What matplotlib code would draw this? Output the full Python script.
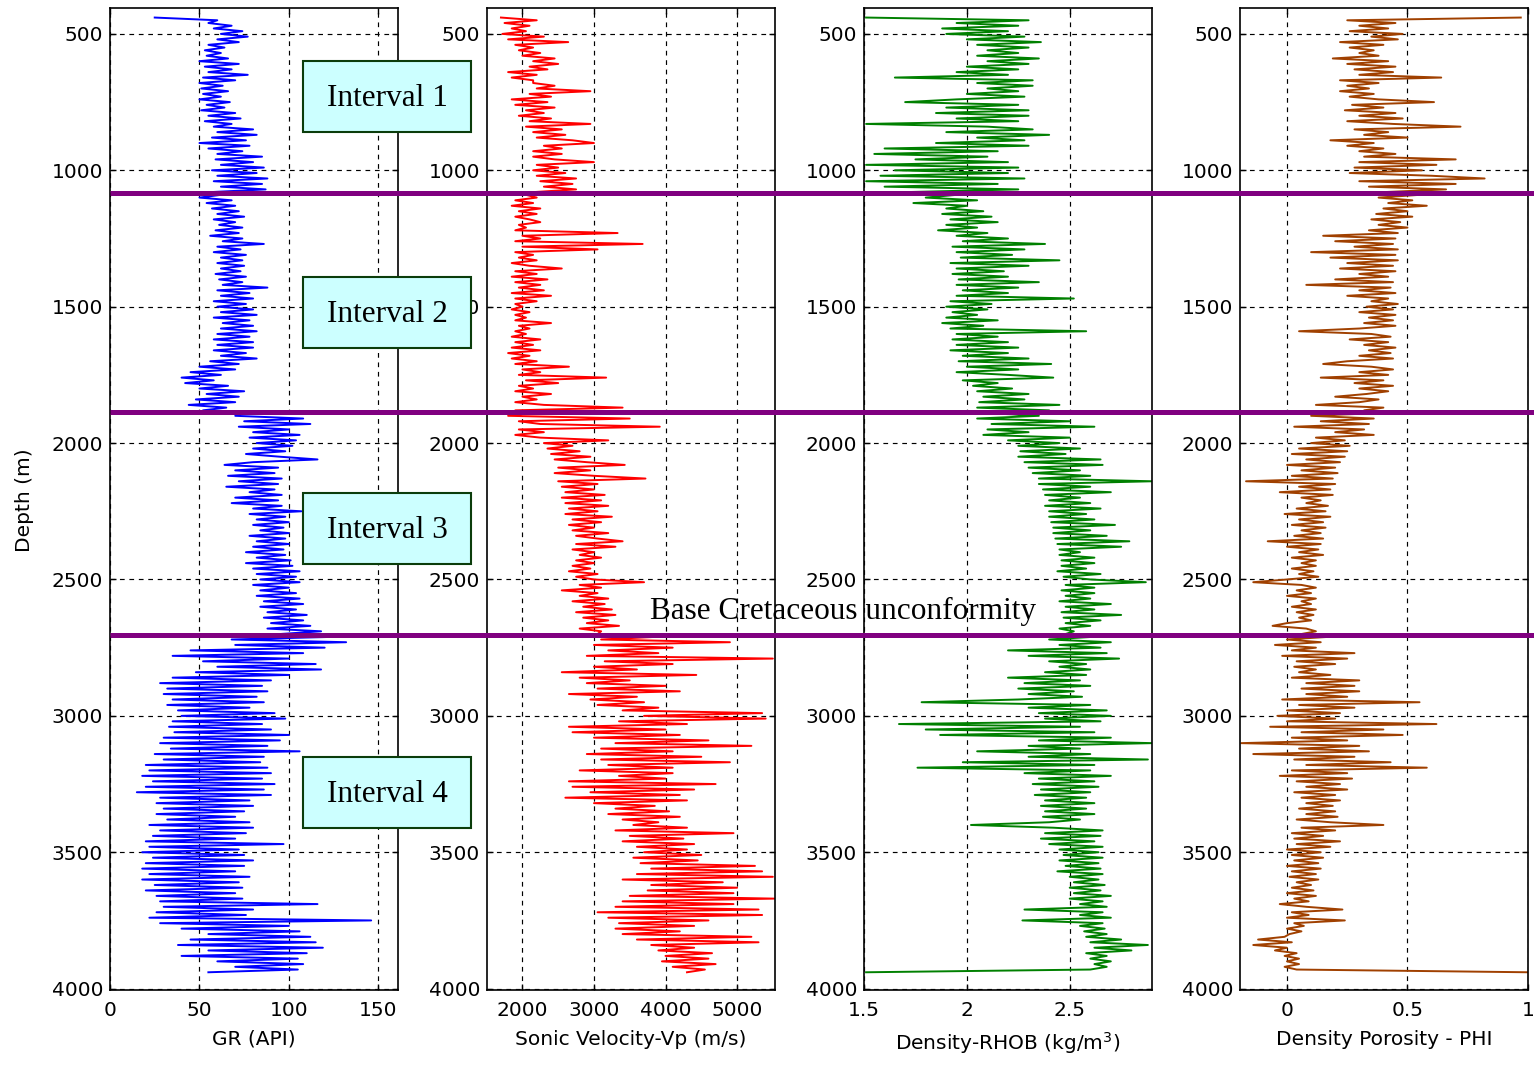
import numpy as np
import matplotlib
matplotlib.use("Agg")
import matplotlib.pyplot as plt
from matplotlib.patches import Rectangle
from matplotlib.lines import Line2D
import matplotlib.transforms as mtransforms

# depth samples (m), one reading every 10 m
depth = np.arange(440, 3941, 10)

# Gamma ray (API), rows of 100 m
gr = [25, 60, 55, 68, 58, 74, 62, 77, 60, 72,
      55, 64, 53, 62, 54, 66, 50, 72, 53, 68,
      55, 77, 52, 70, 50, 63, 51, 66, 52, 62,
      50, 67, 54, 64, 51, 70, 55, 73, 53, 68,
      58, 80, 60, 82, 57, 76, 50, 78, 55, 74,
      60, 85, 59, 80, 62, 86, 57, 82, 60, 88,
      58, 85, 62, 87, 56, 62, 50, 68, 54, 70,
      57, 72, 60, 75, 58, 70, 61, 74, 59, 72,
      56, 74, 63, 86, 60, 73, 58, 76, 62, 74,
      60, 75, 62, 73, 59, 76, 61, 74, 63, 88,
      60, 78, 62, 80, 58, 76, 60, 80, 62, 82,
      58, 78, 63, 80, 62, 82, 60, 78, 58, 80,
      60, 80, 58, 76, 62, 82, 56, 72, 50, 70,
      45, 62, 40, 58, 42, 66, 50, 75, 54, 72,
      48, 70, 44, 65, 52, 75, 70, 108, 75, 112,
      72, 100, 80, 106, 78, 104, 82, 102, 80, 98,
      76, 95, 116, 80, 64, 94, 70, 92, 66, 96,
      72, 94, 65, 92, 78, 96, 70, 94, 68, 96,
      80, 107, 78, 98, 82, 100, 80, 97, 84, 100,
      78, 98, 82, 100, 80, 97, 76, 98, 82, 101,
      76, 102, 80, 106, 82, 104, 84, 106, 80, 100,
      84, 104, 82, 106, 86, 108, 84, 104, 88, 110,
      86, 108, 90, 112, 88, 118, 95, 127, 68, 132,
      70, 120, 45, 108, 35, 100, 52, 115, 60, 118,
      48, 100, 35, 90, 28, 85, 32, 88, 30, 82,
      35, 86, 32, 78, 38, 92, 40, 98, 35, 85,
      33, 90, 36, 100, 30, 95, 28, 88, 34, 106,
      25, 86, 30, 84, 20, 88, 22, 90, 18, 85,
      24, 92, 20, 86, 15, 90, 28, 78, 26, 80,
      30, 75, 26, 70, 32, 78, 22, 80, 28, 76,
      24, 70, 20, 97, 22, 72, 18, 75, 24, 80,
      20, 75, 18, 70, 22, 78, 18, 72, 25, 74,
      20, 70, 26, 74, 28, 116, 30, 80, 26, 76,
      22, 146, 28, 100, 40, 106, 55, 112, 45, 115,
      38, 119, 55, 110, 40, 105, 60, 108, 70, 105,
      55]

# Sonic velocity (m/s)
vp = [1700, 2200, 1750, 2100, 1850, 2050, 1720, 2300, 1800, 2640,
      1900, 2150, 1950, 2250, 2000, 2450, 2150, 2500, 2100, 2350,
      1800, 2200, 1850, 2150, 2150, 2450, 2200, 2950, 2100, 2400,
      1850, 2350, 1900, 2450, 2050, 2300, 1950, 2400, 2100, 2950,
      2050, 2550, 2150, 2600, 2200, 2700, 3000, 2300, 2550, 2150,
      2550, 2150, 2450, 3000, 2200, 2500, 2150, 2600, 2200, 2750,
      2250, 2700, 2300, 2750, 2150, 2050, 2200, 1900, 2150, 1850,
      2250, 1950, 2200, 1900, 2100, 2250, 1950, 2050, 1900, 3330,
      2000, 2250, 1900, 3680, 2000, 3050, 1900, 2150, 1950, 2200,
      1850, 2100, 2550, 1900, 2200, 1850, 2350, 1900, 2250, 1950,
      2300, 1850, 2400, 1900, 2200, 1900, 2000, 1850, 2100, 1900,
      2050, 1900, 2400, 1950, 2100, 1900, 2050, 1850, 2250, 1900,
      2150, 1850, 2250, 1800, 2100, 1850, 2200, 1900, 2650, 2000,
      2250, 1950, 3170, 2050, 2500, 1950, 2150, 1900, 2400, 2000,
      2200, 1900, 2300, 3400, 1900, 2100, 1800, 3500, 1950, 2250,
      3920, 1950, 2300, 1900, 2250, 3200, 2300, 2700, 2350, 2800,
      2400, 2950, 2450, 2900, 3430, 2500, 2950, 2450, 3000, 3720,
      2500, 3050, 2550, 3000, 2600, 3150, 2550, 3100, 2600, 3200,
      2650, 3050, 2600, 3250, 2700, 3100, 2650, 3000, 2700, 3200,
      2750, 3050, 3400, 2750, 3300, 2700, 3000, 2800, 3100, 2750,
      3000, 2700, 2950, 2650, 3050, 2750, 3000, 3700, 2800, 3100,
      2550, 3050, 2800, 3200, 2700, 3150, 2850, 3250, 2750, 3300,
      2850, 3200, 2900, 3350, 2800, 3100, 3050, 3900, 3100, 4900,
      3000, 4100, 3200, 3900, 2900, 5500, 3150, 4100, 3000, 3600,
      2550, 4430, 2800, 3500, 2900, 4000, 3050, 4200, 2650, 3600,
      2950, 3700, 3050, 3900, 3400, 5350, 3700, 5400, 3350, 4300,
      2650, 4000, 2700, 4200, 3000, 4600, 3300, 5200, 3100, 4100,
      2900, 4500, 3100, 4900, 3200, 4100, 2800, 4100, 3350, 4000,
      2650, 4700, 2700, 4400, 2950, 4200, 2600, 4300, 3000, 3850,
      3300, 4050, 3200, 4200, 3400, 3900, 3550, 4300, 3300, 4950,
      3500, 4250, 3400, 4400, 3600, 4300, 3700, 4500, 3550, 4450,
      3650, 5250, 3800, 5350, 3600, 5500, 3400, 4800, 3800, 5000,
      3750, 4950, 3500, 5520, 3400, 4950, 3300, 5300, 3050, 5350,
      3200, 4600, 3350, 4400, 3300, 4200, 3400, 5200, 3600, 5300,
      3800, 4400, 3900, 4650, 4000, 4600, 3950, 4700, 4100, 4550,
      4300]

# Bulk density RHOB
rhob = [1.51, 2.30, 1.95, 2.25, 1.88, 2.20, 1.90, 2.28, 2.00, 2.36,
        2.05, 2.30, 2.10, 2.25, 2.05, 2.35, 2.10, 2.30, 2.00, 2.25,
        1.95, 2.20, 1.65, 2.32, 2.05, 2.32, 2.10, 2.25, 2.00, 2.28,
        1.95, 1.70, 2.25, 1.90, 2.30, 1.85, 2.30, 1.95, 2.25, 1.51,
        2.10, 2.32, 1.90, 2.40, 2.05, 2.28, 1.85, 2.30, 1.60, 2.15,
        1.55, 2.10, 1.75, 2.20, 1.51, 2.25, 1.65, 2.20, 1.58, 2.28,
        1.51, 2.15, 1.60, 2.25, 1.70, 1.95, 1.80, 2.05, 1.74, 2.00,
        1.90, 2.08, 1.88, 2.12, 1.92, 2.15, 1.90, 2.05, 1.86, 2.10,
        1.95, 2.20, 1.98, 2.38, 1.93, 2.28, 1.95, 2.22, 1.97, 2.45,
        1.92, 2.30, 1.95, 2.18, 1.93, 2.20, 1.96, 2.35, 1.95, 2.25,
        1.98, 2.20, 1.95, 2.52, 1.92, 2.12, 1.90, 2.10, 1.93, 2.05,
        1.90, 2.15, 1.88, 2.08, 1.92, 2.58, 1.95, 2.15, 1.93, 2.20,
        1.95, 2.25, 1.92, 2.20, 1.98, 2.30, 1.96, 2.41, 2.00, 2.25,
        1.95, 2.20, 2.42, 1.98, 2.15, 2.03, 2.22, 2.05, 2.30, 2.08,
        2.28, 2.06, 2.45, 2.05, 2.40, 2.10, 2.35, 2.05, 2.50, 2.12,
        2.62, 2.10, 2.30, 2.08, 2.50, 2.20, 2.45, 2.25, 2.55, 2.26,
        2.48, 2.25, 2.65, 2.28, 2.66, 2.30, 2.55, 2.32, 2.60, 2.35,
        2.90, 2.35, 2.60, 2.37, 2.70, 2.38, 2.55, 2.40, 2.60, 2.38,
        2.65, 2.40, 2.58, 2.40, 2.62, 2.41, 2.72, 2.42, 2.60, 2.42,
        2.68, 2.43, 2.79, 2.44, 2.75, 2.45, 2.55, 2.45, 2.62, 2.46,
        2.62, 2.46, 2.58, 2.44, 2.65, 2.47, 2.60, 2.87, 2.48, 2.62,
        2.46, 2.62, 2.48, 2.60, 2.45, 2.70, 2.48, 2.62, 2.46, 2.75,
        2.47, 2.65, 2.48, 2.60, 2.45, 2.52, 2.48, 2.62, 2.40, 2.70,
        2.45, 2.65, 2.20, 2.68, 2.30, 2.74, 2.40, 2.58, 2.45, 2.60,
        2.38, 2.58, 2.20, 2.55, 2.28, 2.60, 2.25, 2.52, 2.30, 2.56,
        2.25, 1.78, 2.60, 2.30, 2.68, 2.35, 2.70, 2.38, 2.65, 1.67,
        2.55, 1.80, 2.62, 1.87, 2.70, 2.35, 2.90, 2.30, 2.55, 2.05,
        2.60, 2.30, 2.88, 1.98, 2.62, 1.76, 2.60, 2.28, 2.70, 2.35,
        2.62, 2.32, 2.64, 2.36, 2.60, 2.33, 2.58, 2.38, 2.62, 2.36,
        2.58, 2.38, 2.62, 2.37, 2.55, 2.40, 2.02, 2.42, 2.66, 2.38,
        2.65, 2.36, 2.62, 2.40, 2.66, 2.45, 2.64, 2.47, 2.66, 2.45,
        2.64, 2.48, 2.65, 2.44, 2.66, 2.50, 2.64, 2.52, 2.67, 2.50,
        2.65, 2.52, 2.70, 2.50, 2.66, 2.55, 2.68, 2.28, 2.66, 2.55,
        2.70, 2.27, 2.66, 2.55, 2.67, 2.57, 2.68, 2.58, 2.75, 2.60,
        2.88, 2.62, 2.80, 2.58, 2.68, 2.60, 2.70, 2.62, 2.68, 2.60,
        1.51]

# Density porosity PHI
phi = [0.97, 0.25, 0.45, 0.30, 0.42, 0.26, 0.48, 0.35, 0.46, 0.22,
       0.40, 0.26, 0.36, 0.30, 0.38, 0.19, 0.42, 0.25, 0.45, 0.28,
       0.44, 0.30, 0.64, 0.22, 0.38, 0.25, 0.34, 0.22, 0.36, 0.26,
       0.38, 0.61, 0.27, 0.40, 0.24, 0.45, 0.30, 0.48, 0.25, 0.44,
       0.72, 0.28, 0.42, 0.32, 0.50, 0.18, 0.36, 0.25, 0.40, 0.30,
       0.45, 0.32, 0.70, 0.30, 0.62, 0.28, 0.56, 0.26, 0.60, 0.82,
       0.30, 0.70, 0.34, 0.66, 0.40, 0.55, 0.38, 0.52, 0.42, 0.58,
       0.40, 0.50, 0.37, 0.52, 0.35, 0.47, 0.38, 0.50, 0.34, 0.46,
       0.15, 0.45, 0.20, 0.44, 0.28, 0.46, 0.10, 0.45, 0.18, 0.46,
       0.25, 0.44, 0.22, 0.45, 0.30, 0.42, 0.20, 0.44, 0.08, 0.43,
       0.30, 0.45, 0.25, 0.42, 0.35, 0.46, 0.33, 0.44, 0.30, 0.45,
       0.34, 0.44, 0.32, 0.45, 0.30, 0.05, 0.35, 0.43, 0.26, 0.42,
       0.32, 0.45, 0.34, 0.43, 0.30, 0.44, 0.25, 0.15, 0.35, 0.44,
       0.30, 0.42, 0.14, 0.40, 0.28, 0.44, 0.30, 0.42, 0.33, 0.20,
       0.38, 0.30, 0.12, 0.40, 0.32, 0.38, 0.10, 0.36, 0.14, 0.34,
       0.03, 0.32, 0.20, 0.36, 0.12, 0.24, 0.10, 0.26, 0.05, 0.25,
       0.02, 0.24, 0.08, 0.22, 0.00, 0.20, 0.06, 0.21, 0.02, 0.19,
       -0.17, 0.20, 0.05, 0.18, -0.03, 0.19, 0.06, 0.14, 0.08, 0.17,
       0.04, 0.16, -0.01, 0.18, 0.05, 0.15, 0.02, 0.16, 0.06, 0.14,
       0.03, 0.15, -0.08, 0.14, 0.00, 0.13, 0.05, 0.15, 0.02, 0.12,
       0.06, 0.12, 0.02, 0.11, 0.05, 0.13, 0.00, -0.14, 0.06, 0.12,
       0.04, 0.10, 0.00, 0.12, 0.06, 0.10, 0.02, 0.12, 0.04, 0.11,
       0.05, 0.10, 0.00, -0.06, 0.08, 0.12, 0.06, 0.18, 0.00, 0.14,
       -0.05, 0.12, 0.02, 0.28, -0.02, 0.25, 0.04, 0.20, 0.03, 0.12,
       0.05, 0.18, 0.02, 0.30, 0.08, 0.28, 0.06, 0.30, 0.08, 0.25,
       -0.02, 0.55, 0.05, 0.28, 0.00, 0.22, -0.04, 0.20, 0.00, 0.62,
       -0.07, 0.40, 0.06, 0.48, 0.02, 0.25, -0.19, 0.30, 0.05, 0.34,
       -0.14, 0.28, 0.03, 0.43, 0.08, 0.58, 0.02, 0.25, -0.03, 0.27,
       0.04, 0.22, 0.08, 0.25, 0.03, 0.20, 0.06, 0.22, 0.08, 0.19,
       0.05, 0.20, 0.08, 0.21, 0.04, 0.18, 0.40, 0.06, 0.20, 0.02,
       0.15, 0.03, 0.22, 0.04, 0.18, 0.00, 0.14, 0.02, 0.15, 0.03,
       0.13, 0.00, 0.14, 0.02, 0.12, 0.01, 0.13, 0.04, 0.10, 0.02,
       0.11, 0.00, 0.12, 0.03, 0.09, -0.03, 0.08, 0.23, 0.02, 0.09,
       0.00, 0.24, 0.03, 0.07, 0.00, 0.06, 0.01, -0.01, -0.12, 0.02,
       -0.14, 0.00, -0.05, 0.04, -0.01, 0.05, 0.00, 0.05, -0.01, 0.04,
       1.00]

boundaries = [1085, 1886, 2703]
interval_labels = ["Interval 1", "Interval 2", "Interval 3", "Interval 4"]

W, H = 1534, 1065
fig = plt.figure(figsize=(W / 100, H / 100), dpi=100)

tracks = [
    (gr, "#0000ff", (0, 161), [0, 50, 100, 150], ["0", "50", "100", "150"], "GR (API)"),
    (vp, "#ff0000", (1505, 5530), [2000, 3000, 4000, 5000],
     ["2000", "3000", "4000", "5000"], "Sonic Velocity-Vp (m/s)"),
    (rhob, "#008000", (1.5, 2.9), [1.5, 2, 2.5], ["1.5", "2", "2.5"],
     "Density-RHOB (kg/m$^3$)"),
    (phi, "#a04000", (-0.195, 1.0), [0, 0.5, 1], ["0", "0.5", "1"],
     "Density Porosity - PHI"),
]
lefts = [110, 487, 864, 1240]

axes = []
for left, (vals, col, xl, xt, xtl, lab) in zip(lefts, tracks):
    ax = fig.add_axes([left / W, 1 - 990 / H, 288 / W, 982 / H])
    ax.plot(vals, depth, color=col, lw=1.4)
    ax.set_xlim(*xl)
    ax.set_ylim(4005, 405)
    ax.set_xticks(xt)
    ax.set_xticklabels(xtl)
    ax.set_yticks(np.arange(500, 4001, 500))
    ax.grid(True, color="k", ls=(0, (4, 4)), lw=0.85)
    ax.tick_params(direction="in", top=True, right=True, length=4, width=1,
                   labelsize=14.5, colors="k")
    ax.tick_params(axis="x", pad=8)
    ax.tick_params(axis="y", pad=5)
    for sp in ax.spines.values():
        sp.set_linewidth(1.2)
    ax.set_xlabel(lab, fontsize=14.5, labelpad=7)
    axes.append(ax)

fig.text(25 / W, 1 - 500 / H, "Depth (m)", rotation=90, fontsize=14.5,
         ha="center", va="center")

# formation boundaries across all tracks
trans = mtransforms.blended_transform_factory(fig.transFigure, axes[0].transData)
for d in boundaries:
    fig.add_artist(Line2D([110 / W, 1.0], [d, d], transform=trans,
                          color="#800080", lw=3.6, solid_capstyle="butt"))

# interval boxes
box_tops = [61, 277, 493, 757]
for top, name in zip(box_tops, interval_labels):
    fig.add_artist(Rectangle((303 / W, 1 - (top + 71) / H), 168 / W, 71 / H,
                             transform=fig.transFigure, facecolor="#ccffff",
                             edgecolor="#0b3d0b", lw=1.5))
    fig.text(387 / W, 1 - (top + 38) / H, name, fontsize=22.5,
             family="Liberation Serif", ha="center", va="center")

fig.text(843 / W, 1 - 611 / H, "Base Cretaceous unconformity", fontsize=22.5,
         family="Liberation Serif", ha="center", va="center")

fig.savefig("out.png", dpi=100)
